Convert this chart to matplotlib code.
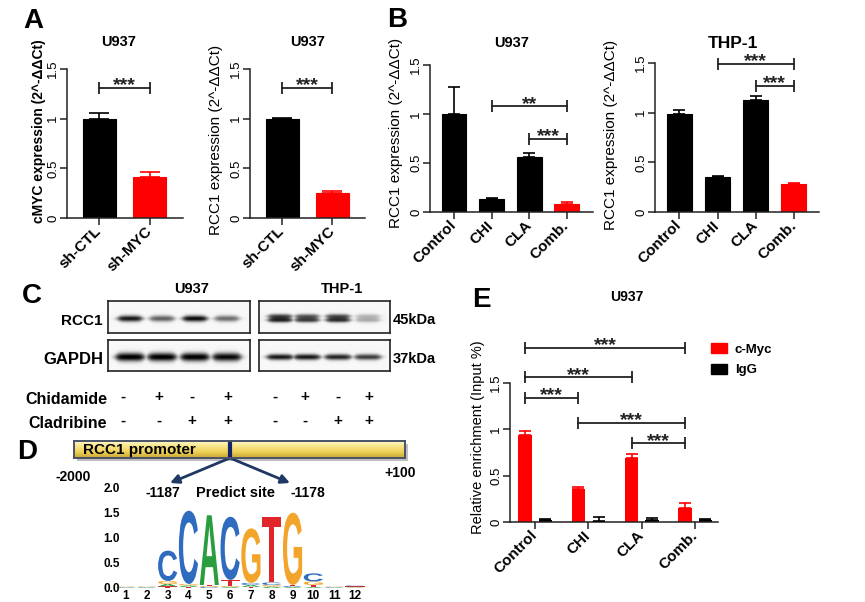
import numpy as np
import matplotlib
matplotlib.use('Agg')
import matplotlib.pyplot as plt
from matplotlib.patches import Rectangle, PathPatch, Patch
from matplotlib.textpath import TextPath
from matplotlib.font_manager import FontProperties
from matplotlib.transforms import Affine2D
from matplotlib.colors import LinearSegmentedColormap

plt.rcParams['font.family'] = ['Liberation Sans', 'DejaVu Sans']

# ---- data ----
a_groups = ['sh-CTL', 'sh-MYC']
a_colors = ['black', 'red']
a_cmyc = [1.0, 0.41]
a_cmyc_err = [0.06, 0.05]
a_rcc1 = [1.0, 0.25]
a_rcc1_err = [0.01, 0.02]
a_sig = [(0, 1, 1.31, '***')]

b_groups = ['Control', 'CHI', 'CLA', 'Comb.']
b_colors = ['black', 'black', 'black', 'red']
b_u937 = [1.0, 0.13, 0.56, 0.08]
b_u937_err = [0.28, 0.01, 0.04, 0.025]
b_u937_sig = [(1, 3, 1.08, '**'), (2, 3, 0.745, '***')]
b_thp1 = [0.99, 0.35, 1.13, 0.28]
b_thp1_err = [0.04, 0.01, 0.04, 0.01]
b_thp1_sig = [(1, 3, 1.49, '***'), (2, 3, 1.27, '***')]

# western blot band intensities (lanes 1-4)
rcc1_u937 = [0.9, 0.6, 0.95, 0.55]
gapdh_u937 = [1.0, 1.0, 1.0, 0.95]
rcc1_thp1 = [0.85, 0.75, 0.8, 0.3]
gapdh_thp1 = [0.9, 0.9, 0.85, 0.75]
chidamide = ['-', '+', '-', '+', '-', '+', '-', '+']
cladribine = ['-', '-', '+', '+', '-', '-', '+', '+']

# sequence logo (bits), positions 1..12
logo_pos = list(range(1, 13))
logo_A = [0.01, 0.01, 0.05, 0.03, 1.38, 0.02, 0.04, 0.03, 0.02, 0.02, 0.01, 0.01]
logo_C = [0.01, 0.01, 0.60, 1.45, 0.02, 1.25, 0.04, 0.05, 0.02, 0.16, 0.01, 0.02]
logo_G = [0.01, 0.01, 0.06, 0.03, 0.02, 0.02, 1.08, 0.03, 1.43, 0.07, 0.01, 0.01]
logo_T = [0.01, 0.01, 0.03, 0.02, 0.02, 0.12, 0.02, 1.30, 0.02, 0.04, 0.01, 0.01]
logo_colors = {'A': '#2a9d3f', 'C': '#2f6cc0', 'G': '#f2a52a', 'T': '#e0262a'}

e_groups = ['Control', 'CHI', 'CLA', 'Comb.']
e_cmyc = [0.94, 0.36, 0.69, 0.15]
e_cmyc_err = [0.04, 0.02, 0.04, 0.05]
e_igg = [0.02, 0.01, 0.02, 0.02]
e_igg_err = [0.01, 0.04, 0.02, 0.01]
e_sig = [(0, 3, 1.88, '***'), (0, 2, 1.56, '***'), (0, 1, 1.34, '***'),
         (1, 3, 1.07, '***'), (2, 3, 0.85, '***')]

W, H = 865, 602
fig = plt.figure(figsize=(W / 100, H / 100), dpi=100)


def fx(x):
    return x / W


def fy(y):
    return 1 - y / H


def add_ax(x0, y0, x1, y1):
    return fig.add_axes([x0 / W, 1 - y1 / H, (x1 - x0) / W, (y1 - y0) / H])


ov = fig.add_axes([0, 0, 1, 1])
ov.set_xlim(0, W)
ov.set_ylim(H, 0)
ov.axis('off')

INK = '#222222'


def style_axes(ax, xlim, labels):
    ax.patch.set_alpha(0)
    ax.set_xlim(xlim)
    ax.set_ylim(0, 1.5)
    for s in ['top', 'right']:
        ax.spines[s].set_visible(False)
    for s in ['left', 'bottom']:
        ax.spines[s].set_linewidth(1.1)
        ax.spines[s].set_color(INK)
    ax.set_yticks([0, 0.5, 1, 1.5])
    ax.set_yticklabels(['0', '0.5', '1', '1.5'], rotation=90, ha='right',
                       va='center', rotation_mode='default', fontsize=9.5)
    ax.tick_params(axis='y', length=5, width=1.1, pad=0.5, color=INK)
    ax.set_xticks(np.arange(len(labels)))
    ax.set_xticklabels(labels, rotation=45, ha='right', va='center',
                       rotation_mode='anchor', fontweight='bold', fontsize=11)
    ax.tick_params(axis='x', length=5, width=1.1, pad=3, color=INK)


def bracket(ax, x0, x1, y, stars, ppu):
    d = 6 / ppu
    ax.plot([x0, x1], [y, y], color=INK, lw=1.3, clip_on=False)
    ax.vlines([x0, x1], y - d, y + d, color=INK, lw=1.3, clip_on=False)
    ax.text((x0 + x1) / 2, y - 2.5 / ppu, stars, ha='center', va='baseline',
            fontsize=14, fontweight='bold', color=INK)


def bar_panel(box, xlim, values, errs, colors, labels, sig, capsize):
    ax = add_ax(*box)
    x = np.arange(len(values))
    ax.bar(x, values, width=0.66, color=colors, edgecolor=colors, lw=0.8, zorder=2)
    for xi, v, e, c in zip(x, values, errs, colors):
        ax.errorbar(xi, v, yerr=[[0], [e]], fmt='none', ecolor=c, elinewidth=1.2,
                    capsize=capsize, capthick=1.2, zorder=1)
    style_axes(ax, xlim, labels)
    ppu = (box[3] - box[1]) / 1.5
    for i, j, y, s in sig:
        bracket(ax, i, j, y, s, ppu)
    return ax


def ylab(ax, text, xr, yc, size, weight='normal'):
    ax.set_ylabel(text, fontsize=size, fontweight=weight)
    ax.yaxis.set_label_coords(fx(xr), fy(yc), transform=fig.transFigure)


# ---- panel A ----
ax1 = bar_panel((67, 69, 183, 218), (-0.64, 1.66), a_cmyc, a_cmyc_err, a_colors,
                a_groups, a_sig, 7)
ylab(ax1, 'cMYC expression (2^-ΔΔCt)', 46, 131, 10, 'bold')
ax2 = bar_panel((250, 69, 365, 218), (-0.64, 1.65), a_rcc1, a_rcc1_err, a_colors,
                a_groups, a_sig, 7)
ylab(ax2, 'RCC1 expression (2^-ΔΔCt)', 223, 140, 11)

# ---- panel B ----
ax3 = bar_panel((430, 65, 593, 212), (-0.64, 3.7), b_u937, b_u937_err, b_colors,
                b_groups, b_u937_sig, 4.5)
ylab(ax3, 'RCC1 expression (2^-ΔΔCt)', 403, 133, 11)
ax4 = bar_panel((655, 63, 819, 212), (-0.64, 3.66), b_thp1, b_thp1_err, b_colors,
                b_groups, b_thp1_sig, 4.5)
ylab(ax4, 'RCC1 expression (2^-ΔΔCt)', 618, 135, 11)

for txt, x, y, sz in [('U937', 119, 42, 10.5), ('U937', 308, 42, 10.5),
                      ('U937', 512, 43, 10.5), ('THP-1', 733, 43, 12.5)]:
    ov.text(x, y, txt, ha='center', va='center', fontsize=sz, fontweight='bold')

# panel letters
for txt, x, y in [('A', 33, 21), ('B', 397, 20), ('C', 32, 296), ('D', 27, 452),
                  ('E', 481, 300)]:
    ov.text(x, y, txt, ha='center', va='center', fontsize=20, fontweight='bold')

# ---- panel C: western blots ----


def blot(box, lanes, intens, half_w, sigma, doublet=False):
    x0, y0, x1, y1 = box
    xx = np.linspace(x0, x1, int((x1 - x0) * 3))
    yy = np.linspace(y0, y1, int((y1 - y0) * 3))
    X, Y = np.meshgrid(xx, yy)
    yc = y0 + 0.55 * (y1 - y0)
    img = np.zeros_like(X)
    for lx, a in zip(lanes, intens):
        prof = 1 / (1 + np.exp((np.abs(X - lx) - half_w) / 1.8))
        s = sigma * (0.55 + 0.45 * prof)
        if doublet:
            band = 0.8 * np.exp(-0.5 * ((Y - yc + 2.3) / s) ** 2) + \
                np.exp(-0.5 * ((Y - yc - 1.5) / s) ** 2)
        else:
            band = np.exp(-0.5 * ((Y - yc) / s) ** 2)
        img = np.maximum(img, a * prof * np.clip(band, 0, 1))
    ax = add_ax(*box)
    ax.imshow(img + 0.03, cmap='gray_r', vmin=0, vmax=1.0, aspect='auto',
              extent=(x0, x1, y1, y0), interpolation='bilinear')
    ax.set_xticks([])
    ax.set_yticks([])
    for s in ax.spines.values():
        s.set_linewidth(1.2)
        s.set_color(INK)


u937_lanes = [130, 162, 195, 227]
thp1_lanes = [280, 307, 338, 368]
blot((108, 301, 250, 333), u937_lanes, rcc1_u937, 12, 2.2)
blot((108, 340, 250, 371), u937_lanes, gapdh_u937, 14, 3.0)
blot((259, 301, 390, 333), thp1_lanes, rcc1_thp1, 12, 1.7, doublet=True)
blot((259, 340, 390, 371), thp1_lanes, gapdh_thp1, 13, 2.1)

ov.text(192, 289, 'U937', ha='center', va='center', fontsize=10.5, fontweight='bold')
ov.text(342, 289, 'THP-1', ha='center', va='center', fontsize=10.5, fontweight='bold')
ov.text(103, 321, 'RCC1', ha='right', va='center', fontsize=11, fontweight='bold')
ov.text(103, 359, 'GAPDH', ha='right', va='center', fontsize=12, fontweight='bold')
ov.text(393, 320, '45kDa', ha='left', va='center', fontsize=10.5, fontweight='bold')
ov.text(393, 359, '37kDa', ha='left', va='center', fontsize=10.5, fontweight='bold')
ov.text(107, 399, 'Chidamide', ha='right', va='center', fontsize=11.5, fontweight='bold')
ov.text(107, 423, 'Cladribine', ha='right', va='center', fontsize=11.5, fontweight='bold')
sign_x = [123, 159, 192, 228, 275, 305, 338, 369]
for x, a, b in zip(sign_x, chidamide, cladribine):
    ov.text(x, 397, a, ha='center', va='center', fontsize=11, fontweight='bold')
    ov.text(x, 421, b, ha='center', va='center', fontsize=11, fontweight='bold')

# ---- panel D: promoter + logo ----
ov.add_patch(Rectangle((77, 444), 331, 17, color='#8c8c8c', alpha=0.55, lw=0))
prom = add_ax(74, 441, 405, 458)
grad = np.linspace(0, 1, 60).reshape(-1, 1)
pcmap = LinearSegmentedColormap.from_list(
    'prom', ['#fffbd6', '#f8e68a', '#eed056', '#c8a632'])
prom.imshow(grad, aspect='auto', cmap=pcmap, extent=(0, 1, 0, 1))
prom.axvline((230 - 74) / 331, color='#14246b', lw=3)
prom.text(0.027, 0.45, 'RCC1 promoter', transform=prom.transAxes, ha='left',
          va='center', fontsize=11, fontweight='bold')
prom.set_xticks([])
prom.set_yticks([])
for s in prom.spines.values():
    s.set_linewidth(1.4)
    s.set_color('#4a5268')

for tx in (170, 290):
    ov.annotate('', xy=(tx, 483), xytext=(230, 458),
                arrowprops=dict(arrowstyle='-|>', color='#1f3864', lw=2,
                                mutation_scale=13, shrinkA=0, shrinkB=0))
ov.text(73, 477, '-2000', ha='center', va='center', fontsize=10, fontweight='bold')
ov.text(400, 473, '+100', ha='center', va='center', fontsize=10, fontweight='bold')
ov.text(163, 493, '-1187', ha='center', va='center', fontsize=10, fontweight='bold')
ov.text(236, 493, 'Predict site', ha='center', va='center', fontsize=10.5,
        fontweight='bold')
ov.text(308, 493, '-1178', ha='center', va='center', fontsize=10, fontweight='bold')

logo = add_ax(115.6, 487, 365.4, 588)
logo.patch.set_alpha(0)
logo.set_xlim(0.5, 12.5)
logo.set_ylim(0, 2)
for s in logo.spines.values():
    s.set_visible(False)
logo.set_yticks([0, 0.5, 1.0, 1.5, 2.0])
logo.set_yticklabels(['0.0', '0.5', '1.0', '1.5', '2.0'])
logo.set_xticks(logo_pos)
logo.tick_params(length=0, labelsize=8.5)
logo.tick_params(axis='y', pad=-3)
logo.tick_params(axis='x', pad=1.5)
for lab in logo.get_xticklabels() + logo.get_yticklabels():
    lab.set_fontweight('bold')

fp = FontProperties(family='Liberation Sans', weight='bold')


def draw_letter(ax, ch, x, y0, h, color):
    tp = TextPath((0, 0), ch, size=1, prop=fp)
    bb = tp.get_extents()
    t = Affine2D().translate(-bb.x0, -bb.y0).scale(0.92 / bb.width, h / bb.height) \
        .translate(x - 0.46, y0)
    ax.add_patch(PathPatch(t.transform_path(tp), fc=color, ec='none'))


for i, p in enumerate(logo_pos):
    stack = sorted([('A', logo_A[i]), ('C', logo_C[i]), ('G', logo_G[i]),
                    ('T', logo_T[i])], key=lambda k: k[1])
    base = 0.0
    for ch, h in stack:
        draw_letter(logo, ch, p, base, h, logo_colors[ch])
        base += h

# ---- panel E ----
axe = add_ax(510, 383, 718, 522)
axe.patch.set_alpha(0)
xe = np.arange(len(e_groups))
off, bw = 0.19, 0.25
axe.bar(xe - off, e_cmyc, bw, color='red', zorder=2)
axe.bar(xe + off, e_igg, bw, color='black', zorder=2)
axe.errorbar(xe - off, e_cmyc, yerr=[np.zeros(4), e_cmyc_err], fmt='none',
             ecolor='red', elinewidth=1.2, capsize=4.3, capthick=1.2, zorder=1)
axe.errorbar(xe + off, e_igg, yerr=[np.zeros(4), e_igg_err], fmt='none',
             ecolor='black', elinewidth=1.2, capsize=4.3, capthick=1.2, zorder=3)
style_axes(axe, (-0.47, 3.43), e_groups)
ppu_e = (522 - 383) / 1.5
for i, j, y, s in e_sig:
    bracket(axe, i - off, j - off, y, s, ppu_e)
ylab(axe, 'Relative enrichment (Input %)', 485, 437, 10.5)
ov.text(627, 297, 'U937', ha='center', va='center', fontsize=10, fontweight='bold')
axe.legend(handles=[Patch(color='red', label='c-Myc'), Patch(color='black', label='IgG')],
           loc='upper left', bbox_to_anchor=(fx(711), fy(343)),
           bbox_transform=fig.transFigure, frameon=False,
           prop=dict(weight='bold', size=9.5), handlelength=1.2, handleheight=0.8,
           handletextpad=0.6, labelspacing=0.6, borderaxespad=0, borderpad=0)

fig.savefig('out.png', dpi=100)
